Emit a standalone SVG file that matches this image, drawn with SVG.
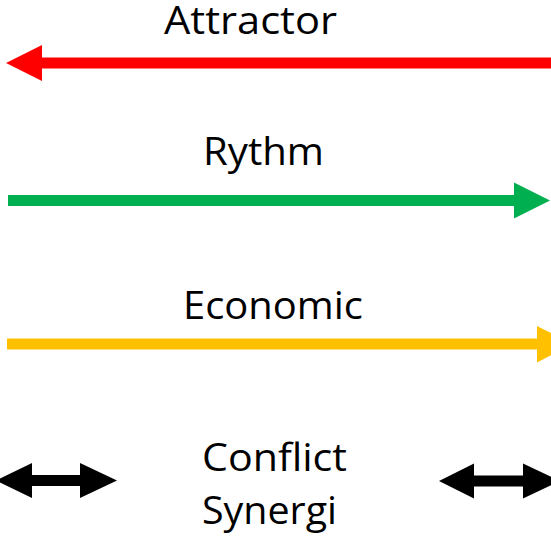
<svg xmlns="http://www.w3.org/2000/svg" width="551" height="537" viewBox="0 0 551 537">
  <style>
    .label { font-family: "Open Sans", "Liberation Sans", sans-serif; font-size: 39px; fill: #000000; }
    .red { fill: #FF0000; }
    .green { fill: #00B050; }
    .yellow { fill: #FFC000; }
    .black { fill: #000000; }
  </style>
  <rect width="551" height="537" fill="#FFFFFF"/>

  <!-- Attractor: points left -->
  <g id="attractor">
    <text class="label" x="164" y="34" textLength="173" lengthAdjust="spacingAndGlyphs">Attractor</text>
    <polygon class="red" points="6,63 42,45 42,57.5 551,57.5 551,68.5 42,68.5 42,81"/>
  </g>

  <!-- Rythm: points right -->
  <g id="rythm">
    <text class="label" x="203" y="165" textLength="121" lengthAdjust="spacingAndGlyphs">Rythm</text>
    <polygon class="green" points="8,195 514,195 514,182.5 550,200.5 514,218.5 514,206 8,206"/>
  </g>

  <!-- Economic: points right, head runs past the edge -->
  <g id="economic">
    <text class="label" x="183" y="319" textLength="180" lengthAdjust="spacingAndGlyphs">Economic</text>
    <polygon class="yellow" points="7,338.5 537,338.5 537,326 573,344 537,362.5 537,349.5 7,349.5"/>
  </g>

  <!-- Conflict / Synergi: double-headed arrows on both sides -->
  <g id="conflict-synergi">
    <text class="label" x="202" y="471" textLength="145" lengthAdjust="spacingAndGlyphs">Conflict</text>
    <text class="label" x="202" y="524" textLength="135" lengthAdjust="spacingAndGlyphs">Synergi</text>
  </g>

  <g id="connectors">
    <polygon class="black" points="-4,480.5 32,463 32,475 80,475 80,463 117,480.5 80,498 80,486 32,486 32,498"/>
    <polygon class="black" points="439,481 474,463.5 474,475.5 523,475.5 523,463.5 560,481 523,498.5 523,486.5 474,486.5 474,498.5"/>
  </g>
</svg>
